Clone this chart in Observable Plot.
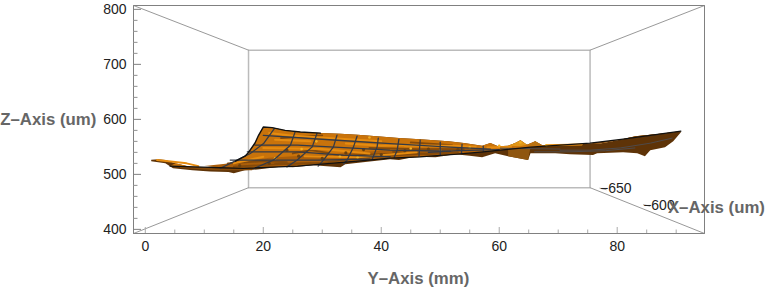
<!DOCTYPE html>
<html><head><meta charset="utf-8">
<script src="https://cdn.jsdelivr.net/npm/d3@7"></script>
<script src="https://cdn.jsdelivr.net/npm/@observablehq/plot@0.6"></script>
<style>html,body{margin:0;padding:0;background:#fff}svg{display:block}</style>
</head><body><div id="chart"></div>
<script>
const xDomain=[-2,94.8], zDomain=[392.5,807];
const xMajor=[0,20,40,60,80], xMinor=[5,10,15,25,30,35,45,50,55,65,70,75,85,90];
const zMajor=[400,500,600,700,800];
const zMinor=[420,440,460,480,520,540,560,580,620,640,660,680,720,740,760,780];
const backBox=[[17.5,725.8],[75.4,725.8],[75.4,475.8],[17.5,475.8],[17.5,725.8]];
const outerBox=[[-2,392.5],[-2,807],[94.8,807],[94.8,392.5],[-2,392.5]];
const diagonals=[[[-2,807],[17.5,725.8]],[[94.8,807],[75.4,725.8]],[[-2,392.5],[17.5,475.8]],[[94.8,392.5],[75.4,475.8]]];
const topEdge=[[1,526.7],[2.2,527.6],[3.4,526],[5.1,520.4],[7.6,514],[10.2,513],[12.7,515.8],[15.3,524],[16.9,533],[17.5,540],[18.6,557],[19.2,571],[20,586],[21.5,585],[23.7,580],[26.3,577],[29.7,575],[33.1,574],[36,572],[39.8,569],[43,566],[46.6,564],[49,562],[51.4,560],[54,557],[57.1,552],[58.5,557],[59.8,551],[61.5,552],[62.7,557],[63.6,562],[64.7,554],[66.1,560],[67.3,553],[69.5,554],[72.9,555],[77.1,556],[80.5,563],[83.1,569.5],[87.3,574],[90.8,578.5]];
const bottomEdge=[[1,524],[3.4,520.4],[4.7,511],[8,507.6],[11,505],[14.1,504.5],[15,502],[16.9,507.6],[19,509],[22.9,514],[25,513],[28.5,516.7],[33.1,513],[33.9,518.5],[36.9,522],[41.5,527.6],[43,526],[45.8,532],[49.2,531],[52.5,536.7],[55,534],[57.1,531],[59.3,538.5],[61.5,533],[64.9,526],[65.3,538.5],[69.5,538.5],[72,536.7],[75.9,535],[76.6,538.5],[81,540],[83.4,538.5],[84.7,533],[85.6,544],[88.1,549.5],[89.5,560.3],[90.8,576.7]];
const frontEdge=[[4.2,515],[16.6,511],[25.8,515],[36.9,525],[41.5,529.4],[46.6,531.8],[52.9,536.7],[57.3,541],[65.3,549.5],[75.4,556.7],[81,564],[90.8,578.5]];
const midEdge=[[10,515],[16,522],[21,530],[30,536],[40,543],[50,548],[57,548]];
const blackTop=[[15.3,524],[16.9,533],[17.5,540],[18.6,557],[19.2,571],[20,586],[21.5,585],[23.7,580],[26.3,577],[29.7,575]];
const rightTop=[[76,555],[77.1,556],[80.5,563],[83.1,569.5],[87.3,574],[90.8,578.5],[81,564],[75.4,556.7]];
const goldBump=[[61.5,552],[62.7,557],[63.6,562],[64.7,554],[63.5,551]];
const amberBump=[[65,552],[66.1,560],[67.3,553]];
const wedge=[[61.5,546],[65.3,549.5],[64.9,526],[61.5,533]];
const gridLines=[
 [[21.9,583.4],[20.05,556],[17.8,538],[12.7,511]],
 [[25.4,577.3],[24.6,553],[21.7,525.8],[18.4,510.7]],
 [[29.1,574.3],[28.3,550],[25.7,525.8],[24,513.6]],
 [[32.5,571.3],[31.9,550],[30.2,525.8],[29.3,515]],
 [[35.9,569.4],[35.3,550],[34.2,525.8],[33.6,519.4]],
 [[39.5,565.8],[39.3,550],[38.4,525.8]],
 [[43,564],[42.7,544],[42.2,531]],
 [[46.6,562],[46.4,533]],
 [[50,558.5],[50,535]],
 [[53.7,555],[53.6,538.5]],
 [[57.3,551],[57.3,542]],
 [[20,571],[32.5,562],[41.5,556],[51.7,549.5],[58.5,546]],
 [[18.6,553],[25.8,553],[41.5,544],[51.7,542]],
 [[17.3,541],[25.8,541],[33.6,535],[41.5,532]],
 [[14.4,526],[22.9,526],[29.2,526],[38.1,527.6]],
 [[48,540],[53,543],[60,545]]
];
const brownGrid=[[[60.2,547.6],[70.3,546]],[[70.3,544],[75.4,544],[80.5,548],[85.6,556.7],[89.3,565.8]],[[66,541],[72,541],[78,543],[83,548]]];
const brightStreaks=[
 [[21,575],[25,570],[31,566],[40,560]],[[20,548],[30,546],[38,538]],[[27,533],[36,531],[46,540]],[[44,552],[52,552],[56,550]],[[68,553],[74,554.5]],[[2,526],[7,520],[9,515]],[[15,520],[20,532]],[[34,556],[40,552],[46,553]],[[22,563],[28,560]],[[58,549],[62,550]]
];
const darkStreaks=[
 [[22,519],[30,521],[36,529],[44,536],[52,540]],[[15,514],[22,518],[28,520]],[[6,513],[12,509],[18,509]],[[38,548],[46,546],[54,546]],[[25,538],[28,544],[31,539]],[[32,532],[37,536],[42,537]],[[42,541],[48,537],[53,540]],[[14,520],[20,524],[24,522]],[[23,566],[30,571]],[[45,558],[52,553]]
];
const yellowSpots=[[63.6,558],[26.5,546],[36,531],[38,567],[60,552],[68,553],[29,560],[33,533],[45,547],[22,529],[50,543],[55,549]];
const brownSpots=[[26,533],[34,539],[40,536],[44,543],[48,546],[30,529],[24,544],[37,545],[53,545],[21,520],[16,516]];
const depthTicks=[[77,475,78.2,472],[84.4,445,85.6,442]];
const lineRows=(ls,k)=>ls.flatMap((l,i)=>l.map(([x,y])=>({x,y,k:k+i})));
const toRows=a=>a.map(([x,y])=>({x,y}));
const silhouette=toRows([...topEdge,...bottomEdge.slice().reverse()]);
const upper=toRows([...topEdge.slice(3),...frontEdge.slice().reverse()]);
const lowerBand=toRows([...midEdge,[57.3,541],[52.9,536.7],[46.6,531.8],[41.5,529.4],[36.9,525],[25.8,515],[16.6,511]]);
const font="'Liberation Sans',Arial,sans-serif";
const p={x:"x",y:"y"};
const poly=(a,fill)=>Plot.line(toRows(a),{...p,fill,stroke:"none",curve:"linear-closed"});
const label=(t,x,y,anchor)=>Plot.text([t],{x:[x],y:[y],text:d=>d,textAnchor:anchor,fontSize:16.8,fontWeight:"bold",fill:"#666"});
const tickText=(t,x,y)=>Plot.text([t],{x:[x],y:[y],text:d=>d,textAnchor:"start",fontSize:14,fill:"#222"});
const chart=Plot.plot({
 width:768,height:289,marginLeft:133,marginRight:64,marginTop:5,marginBottom:56,
 style:{fontFamily:font,fontSize:"14px",background:"#fff",overflow:"visible"},
 x:{domain:xDomain,axis:null},y:{domain:zDomain,axis:null},
 marks:[
  Plot.line(toRows(backBox),{...p,stroke:"#bbb",strokeWidth:1.5}),
  ...diagonals.map(d=>Plot.line(toRows(d),{...p,stroke:"#999",strokeWidth:1})),
  Plot.line(toRows(outerBox),{...p,stroke:"#808080",strokeWidth:1}),
  Plot.axisY({ticks:zMajor,tickSize:-8,tickPadding:15,stroke:"#808080",fill:"#222",label:null,anchor:"left"}),
  Plot.axisY({ticks:zMinor,tickSize:-4.5,stroke:"#909090",fill:"none",label:null,anchor:"left"}),
  Plot.axisX({ticks:xMajor,tickSize:-6,tickPadding:14,stroke:"#aaa",fill:"#222",label:null,anchor:"bottom",tickFormat:d=>d}),
  Plot.axisX({ticks:xMinor,tickSize:-3.5,stroke:"#aaa",fill:"none",label:null,anchor:"bottom"}),
  Plot.link(depthTicks,{x1:d=>d[0],y1:d=>d[1],x2:d=>d[2],y2:d=>d[3],stroke:"#aaa"}),
  Plot.line(silhouette,{...p,fill:"#5e3307",stroke:"none",curve:"linear-closed"}),
  Plot.line(upper,{...p,fill:"#c9730b",stroke:"none",curve:"linear-closed"}),
  Plot.line(lowerBand,{...p,fill:"#ab5e0a",stroke:"none",curve:"linear-closed"}),
  poly(rightTop,"#7c4409"),
  poly(wedge,"#8f5610"),
  poly(goldBump,"#e09618"),
  poly(amberBump,"#b87212"),
  Plot.line(lineRows(darkStreaks,"d"),{...p,z:"k",stroke:"#854a0a",strokeWidth:1.8}),
  Plot.line(lineRows(brightStreaks,"b"),{...p,z:"k",stroke:"#e68c10",strokeWidth:2}),
  Plot.dot(toRows(yellowSpots),{...p,r:1.3,fill:"#f0b024"}),
  Plot.dot(toRows(brownSpots),{...p,r:1.6,fill:"#6a400f"}),
  Plot.line(lineRows(gridLines,"g"),{...p,z:"k",stroke:"#343a46",strokeWidth:1.3}),
  Plot.line(lineRows(brownGrid,"h"),{...p,z:"k",stroke:"#4e4a4a",strokeWidth:1}),
  Plot.line(toRows(frontEdge),{...p,stroke:"#111",strokeWidth:1.2}),
  Plot.line(toRows(blackTop),{...p,stroke:"#111",strokeWidth:1.4}),
  tickText("−650",77.1,475),
  tickText("−600",84.4,444),
  label("Z–Axis (um)",-24.6,600,"start"),
  label("Y–Axis (mm)",46.3,311,"middle"),
  label("X–Axis (um)",88.6,440.4,"start")
 ]
});
document.getElementById("chart").append(chart);
</script></body></html>
